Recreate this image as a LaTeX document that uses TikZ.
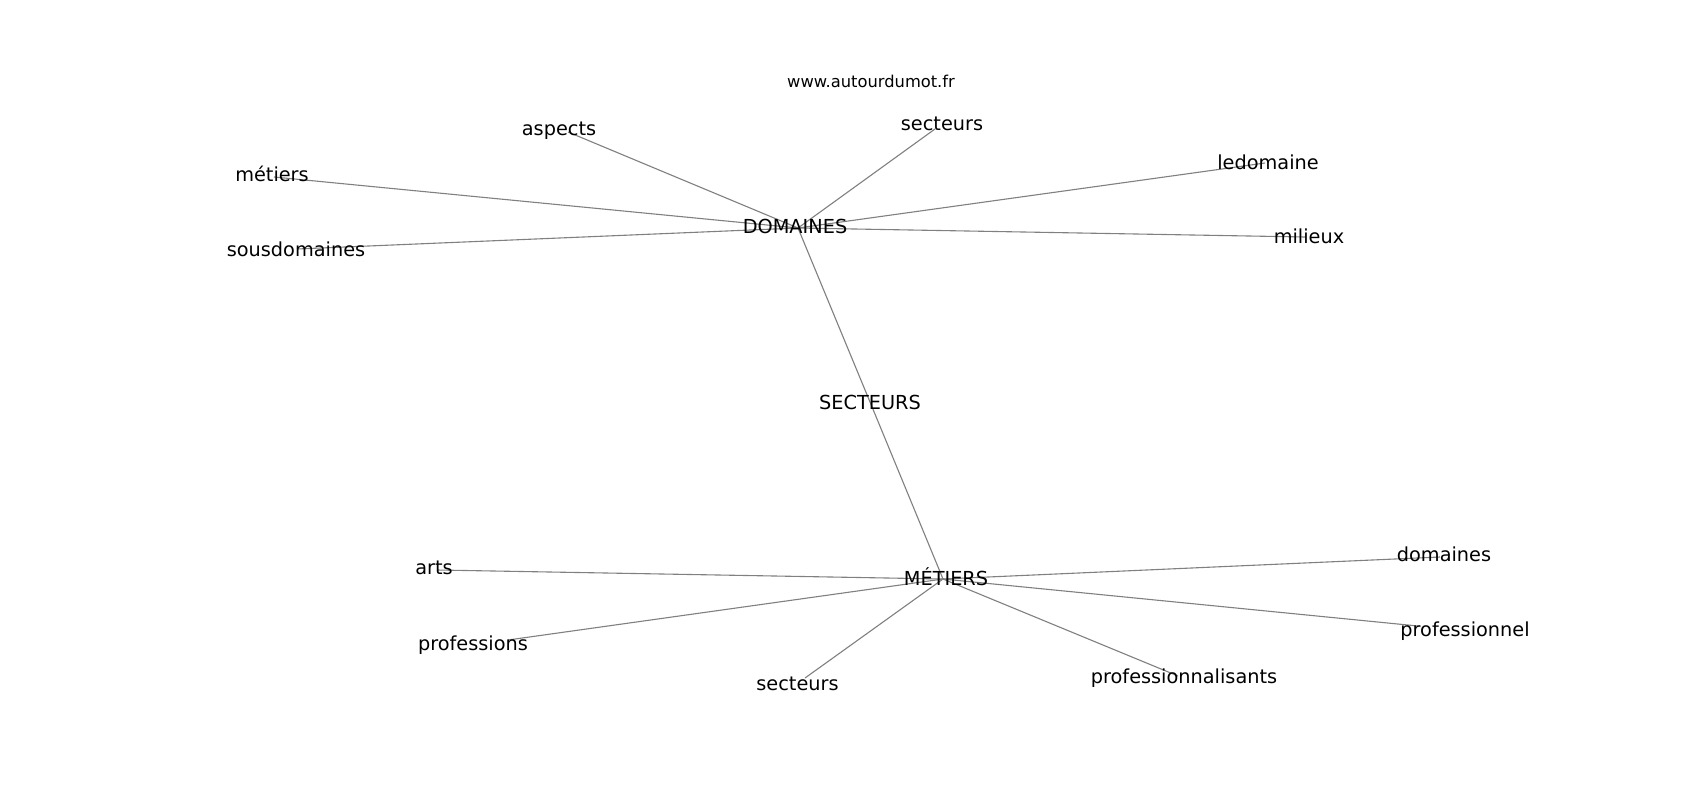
\documentclass[tikz,border=0pt]{standalone}
\usepackage{fontspec}
\setmainfont{DejaVu Sans}
\begin{document}
\begin{tikzpicture}[x=1pt,y=-1pt,
  lbl/.style={inner sep=0pt,anchor=base,font=\fontsize{19.3}{22}\selectfont},
  ttl/.style={inner sep=0pt,anchor=base,font=\fontsize{16.3}{19}\selectfont},
  edge/.style={draw=gray,line width=1.1pt}]
\useasboundingbox[fill=white] (0,0) rectangle (1700,800);
% node positions
\coordinate (D) at (798,228);
\coordinate (M) at (943,579);
\coordinate (S) at (870,402);
\coordinate (asp) at (568,132);
\coordinate (sec1) at (935,129);
\coordinate (met) at (274,177);
\coordinate (sous) at (297,249);
\coordinate (led) at (1265,163);
\coordinate (mil) at (1305,237);
\coordinate (art) at (437,570);
\coordinate (pro) at (508,640);
\coordinate (sec2) at (805,678);
\coordinate (pnl) at (1178,676);
\coordinate (dom) at (1440,557);
\coordinate (pel) at (1418,626);
% edges
\foreach \t in {asp,sec1,met,sous,led,mil} \draw[edge] (D) -- (\t);
\foreach \t in {art,pro,sec2,pnl,dom,pel} \draw[edge] (M) -- (\t);
\draw[edge] (D) -- (S) -- (M);
% labels
\node[ttl] (title) at (871,87.7) {www.autourdumot.fr};
\node[lbl] (tD) at (795,233.3) {DOMAINES};
\node[lbl] (tM) at (946,585) {MÉTIERS};
\node[lbl] (tS) at (870,409) {SECTEURS};
\node[lbl] (tasp) at (559,135) {aspects};
\node[lbl] (tsec1) at (942,130) {secteurs};
\node[lbl] (tmet) at (272,181.7) {métiers};
\node[lbl] (tsous) at (296,256.7) {sousdomaines};
\node[lbl] (tled) at (1268,169) {ledomaine};
\node[lbl] (tmil) at (1309,243.3) {milieux};
\node[lbl] (tart) at (434,574.3) {arts};
\node[lbl] (tpro) at (473,650) {professions};
\node[lbl] (tsec2) at (797.5,690) {secteurs};
\node[lbl] (tpnl) at (1184,683.5) {professionnalisants};
\node[lbl] (tdom) at (1444,561.7) {domaines};
\node[lbl] (tpel) at (1465,636.7) {professionnel};
\end{tikzpicture}
\end{document}
